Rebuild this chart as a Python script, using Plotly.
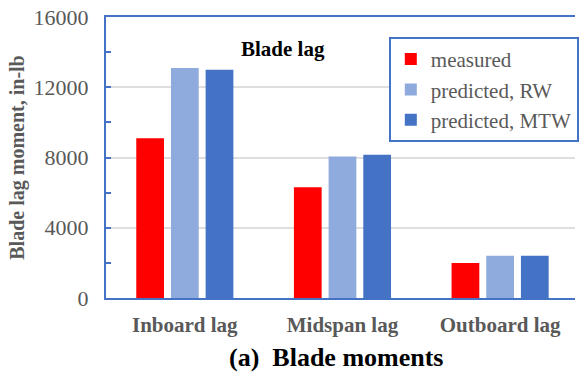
import plotly.graph_objects as go

categories = ["Inboard lag", "Midspan lag", "Outboard lag"]
measured = [9100, 6300, 2000]
predicted_rw = [13100, 8050, 2400]
predicted_mtw = [13000, 8150, 2400]

series_names = ["measured", "predicted, RW", "predicted, MTW"]
series_colors = ["#FF0000", "#8FAADC", "#4472C4"]

AXIS_BLUE = "#4472C4"
GRAY = "#595959"
SERIF = "Liberation Serif"

fig = go.Figure()
for name, vals, color in zip(series_names, [measured, predicted_rw, predicted_mtw], series_colors):
    fig.add_trace(go.Bar(x=categories, y=vals, name=name,
                         marker=dict(color=color, line=dict(width=0))))

fig.update_layout(
    width=579, height=375,
    margin=dict(l=106, r=0, t=17, b=77),
    paper_bgcolor="white", plot_bgcolor="white",
    barmode="group", bargap=0.34, bargroupgap=0.2,
    font=dict(family=SERIF, color=GRAY),
    showlegend=True,
    legend=dict(x=0.603, y=0.929, xanchor="left", yanchor="top",
                bgcolor="white", bordercolor=AXIS_BLUE, borderwidth=2,
                font=dict(size=21, color=GRAY, family=SERIF), tracegroupgap=0,
                itemwidth=30),
)

fig.update_xaxes(
    range=[-0.5, 2.475], showline=True, linecolor=AXIS_BLUE, linewidth=2,
    mirror=True, ticks="", showgrid=False,
    tickfont=dict(size=21, color=GRAY, family=SERIF, weight="bold"),
    ticklabelstandoff=7,
)
fig.update_yaxes(
    range=[0, 16000], tick0=0, dtick=4000, tickformat="d",
    showline=True, linecolor=AXIS_BLUE,
    linewidth=2, mirror=False, ticks="inside", ticklen=5, tickcolor=AXIS_BLUE,
    tickwidth=1.5, showgrid=True, gridcolor="#DEDEDE", gridwidth=1.5,
    minor=dict(dtick=2000, ticks="inside", ticklen=5, tickcolor=AXIS_BLUE,
               tickwidth=1.5, showgrid=False),
    tickfont=dict(size=22, color=GRAY, family=SERIF),
    ticklabelstandoff=11, zeroline=False,
    title=dict(text="Blade lag moment, in-lb",
               font=dict(size=20, color=GRAY, family=SERIF, weight="bold"),
               standoff=4),
)

fig.add_annotation(text="<b>Blade lag</b>", xref="paper", yref="paper",
                   x=0.378, y=0.885, xanchor="center", yanchor="middle",
                   showarrow=False, font=dict(size=21, color="black", family=SERIF))
fig.add_annotation(text="<b>(a)  Blade moments</b>", xref="paper", yref="paper",
                   x=0.49, y=-0.270, xanchor="center", yanchor="bottom",
                   showarrow=False, font=dict(size=26, color="black", family=SERIF))

fig.write_html("out.html")
